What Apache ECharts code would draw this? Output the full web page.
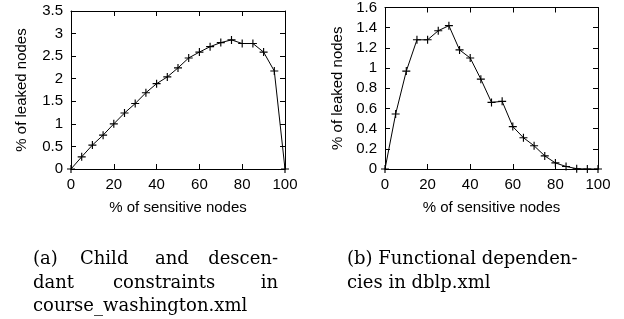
<!DOCTYPE html>
<html>
<head>
<meta charset="utf-8">
<script src="https://cdn.jsdelivr.net/npm/echarts@6/dist/echarts.min.js"></script>
<style>
  html, body { margin: 0; padding: 0; background: #fff; }
  #chart { width: 624px; height: 319px; }
</style>
</head>
<body>
<div id="chart"></div>
<script>
  // x positions (% of sensitive nodes)
  const sensitive = [0, 5, 10, 15, 20, 25, 30, 35, 40, 45, 50, 55, 60, 65, 70, 75, 80, 85, 90, 95, 100];
  // (a) course_washington.xml
  const leakedA = [0, 0.27, 0.53, 0.75, 1.0, 1.24, 1.45, 1.69, 1.89, 2.04, 2.24, 2.46, 2.59, 2.71, 2.80, 2.86, 2.78, 2.78, 2.59, 2.17, 0];
  // (b) dblp.xml
  const leakedB = [0, 0.545, 0.97, 1.28, 1.28, 1.37, 1.42, 1.18, 1.10, 0.89, 0.66, 0.67, 0.42, 0.31, 0.23, 0.13, 0.06, 0.025, 0.003, 0, 0];
  const xName = '% of sensitive nodes';
  const yName = '% of leaked nodes';

  const plus = 'path://M3,0h1v7h-1zM0,3h7v1h-7z';
  const font = 'Liberation Sans, Arial, sans-serif';
  const serif = 'DejaVu Serif, serif';

  function pts(ys) {
    return sensitive.map((x, i) => [x, ys[i]]);
  }

  function xAxes(gi) {
    const base = {
      gridIndex: gi, type: 'value', min: 0, max: 100, interval: 20,
      axisLine: { onZero: false, lineStyle: { color: '#000', width: 1 } },
      axisTick: { inside: true, length: 5, lineStyle: { color: '#000' } },
      splitLine: { show: false }
    };
    return [
      Object.assign({}, base, {
        position: 'bottom',
        axisLabel: { color: '#000', fontSize: 15, fontFamily: font, margin: 8 },
        name: xName, nameLocation: 'middle', nameGap: 31,
        nameTextStyle: { color: '#000', fontSize: 15, fontFamily: font }
      }),
      Object.assign({}, base, { position: 'top', axisLabel: { show: false } })
    ];
  }

  function yAxes(gi, max, step, gap) {
    const base = {
      gridIndex: gi, type: 'value', min: 0, max: max, interval: step,
      axisLine: { onZero: false, lineStyle: { color: '#000', width: 1 } },
      axisTick: { inside: true, length: 5, lineStyle: { color: '#000' } },
      splitLine: { show: false }
    };
    return [
      Object.assign({}, base, {
        position: 'left',
        axisLabel: { color: '#000', fontSize: 15, fontFamily: font, margin: 8 },
        name: yName, nameLocation: 'middle', nameGap: gap,
        nameTextStyle: { color: '#000', fontSize: 15, fontFamily: font }
      }),
      Object.assign({}, base, { position: 'right', axisLabel: { show: false } })
    ];
  }

  function series(xi, yi, ys) {
    return {
      type: 'line', xAxisIndex: xi, yAxisIndex: yi, data: pts(ys),
      symbol: plus, symbolSize: 8, showAllSymbol: true,
      lineStyle: { color: '#000', width: 1 },
      itemStyle: { color: '#000' },
      animation: false
    };
  }

  function word(text, x, y, align) {
    return {
      type: 'text', x: x, y: y,
      style: { text: text, fill: '#000', font: '18px ' + serif, textAlign: align || 'left', textVerticalAlign: 'bottom' }
    };
  }

  const chart = echarts.init(document.getElementById('chart'));
  chart.setOption({
    animation: false,
    grid: [
      { left: 71, right: 339, top: 11, bottom: 150 },
      { left: 385, right: 26, top: 7, bottom: 150 }
    ],
    xAxis: xAxes(0).concat(xAxes(1)),
    yAxis: yAxes(0, 3.5, 0.5, 42).concat(yAxes(1, 1.6, 0.2, 40)),
    series: [
      series(0, 0, leakedA),
      series(2, 2, leakedB)
    ],
    graphic: [
      word('(a)', 33, 268),
      word('Child', 80, 268),
      word('and', 155, 268),
      word('descen-', 278, 268, 'right'),
      word('dant', 33, 292),
      word('constraints', 113, 292),
      word('in', 278, 292, 'right'),
      word('course_washington.xml', 33, 315),
      word('(b) Functional dependen-', 347, 268),
      word('cies in dblp.xml', 347, 292)
    ]
  });
</script>
</body>
</html>
